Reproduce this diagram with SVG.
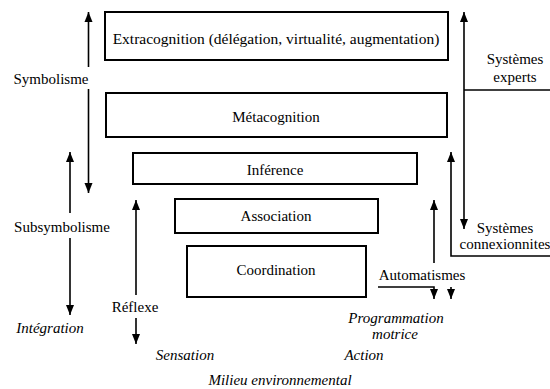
<svg xmlns="http://www.w3.org/2000/svg" width="550" height="389" viewBox="0 0 550 389">
<defs>
<marker id="ah" markerUnits="userSpaceOnUse" markerWidth="10" markerHeight="10" viewBox="0 0 10 10" refX="10" refY="5" orient="auto">
<path d="M0,1 L10,5 L0,9 Z" fill="#000"/>
</marker>
</defs>
<style>
text{font-size:15px;fill:#000;text-anchor:middle}
.it{font-style:italic}
.box{fill:#fff;stroke:#000;stroke-width:2}
.ln{fill:none;stroke:#000;stroke-width:1.6}
.ar{fill:none;stroke:#000;stroke-width:1.6;marker-end:url(#ah)}
</style>
<rect width="550" height="389" fill="#fff"/>
<g font-family="'Liberation Serif', 'DejaVu Serif', serif">
<g id="extracognition"><rect class="box" x="105" y="12" width="343" height="48"/><text x="276" y="44" style="font-size:15.5px">Extracognition (délégation, virtualité, augmentation)</text></g>
<g id="metacognition"><rect class="box" x="106" y="93" width="341" height="44"/><text x="276" y="122">Métacognition</text></g>
<g id="inference"><rect class="box" x="133" y="153" width="284" height="31"/><text x="275" y="175">Inférence</text></g>
<g id="association"><rect class="box" x="175" y="199" width="203" height="34"/><text x="276" y="221">Association</text></g>
<g id="coordination"><rect class="box" x="187" y="246" width="179" height="51"/><text x="276" y="275">Coordination</text></g>
<g id="labels">
<text x="51" y="84">Symbolisme</text>
<text x="62" y="232">Subsymbolisme</text>
<text class="it" x="50" y="333">Intégration</text>
<text x="135" y="312">Réflexe</text>
<text class="it" x="185" y="360">Sensation</text>
<text class="it" x="364" y="360">Action</text>
<text class="it" x="280" y="385">Milieu environnemental</text>
<text class="it" x="396" y="323">Programmation</text>
<text class="it" x="395" y="339">motrice</text>
<text x="422" y="280">Automatismes</text>
<text x="515" y="64">Systèmes</text>
<text x="515" y="82">experts</text>
<text x="505" y="233">Systèmes</text>
<text x="505" y="249">connexionnites</text>
</g>
</g>
<g id="connectors">
<line class="ar" x1="88.5" y1="67" x2="88.5" y2="12"/>
<line class="ar" x1="88.5" y1="89" x2="88.5" y2="193"/>
<line class="ar" x1="70" y1="213" x2="70" y2="152"/>
<line class="ar" x1="70" y1="238" x2="70" y2="315"/>
<line class="ar" x1="136" y1="295" x2="136" y2="200"/>
<line class="ar" x1="136" y1="318" x2="136" y2="344"/>
<line class="ar" x1="434" y1="263" x2="434" y2="200"/>
<polyline class="ar" points="550,256 451,256 451,152"/>
<line class="ar" x1="464" y1="120" x2="464" y2="12"/>
<line class="ar" x1="464" y1="120" x2="464" y2="229"/>
<line class="ln" x1="464" y1="90" x2="550" y2="90"/>
<polyline class="ar" points="378,287 434,287 434,299"/>
<line class="ar" x1="451" y1="287" x2="451" y2="299"/>
</g>
</svg>
